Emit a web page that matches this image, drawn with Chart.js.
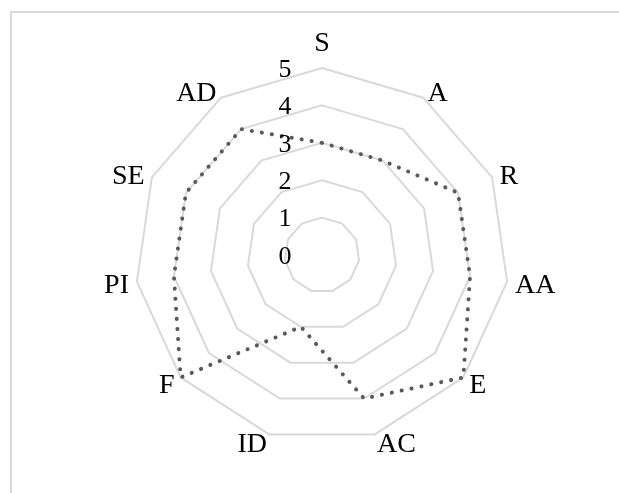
<!DOCTYPE html>
<html lang="en">
<head>
    <meta charset="UTF-8">
    <title>Radar</title>
    <script src="https://cdn.jsdelivr.net/npm/chart.js"></script>
    <style>
        body { margin: 0; background: #fff; font-family: 'Liberation Serif', serif; }
        #wrap { position: relative; width: 619px; height: 493px; overflow: hidden; }
        #frame { position: absolute; left: 10px; top: 11px; width: 700px; height: 600px;
                 border-left: 2px solid #d9d9d9; border-top: 2px solid #d9d9d9; }
        canvas { position: absolute; left: 0; top: 0; }
    </style>
</head>
<body>
<div id="wrap">
    <div id="frame"></div>
    <canvas id="radar" width="619" height="493"></canvas>
</div>
<script>
    const categories = ['S', 'A', 'R', 'AA', 'E', 'AC', 'ID', 'F', 'PI', 'SE', 'AD'];
    const scores = [3, 3, 4, 4, 5, 4, 2, 5, 4, 4, 4];
    const tickLabels = ['0', '1', '2', '3', '4', '5'];

    const labelFont = '28px "Liberation Serif"';
    const tickFont = '26px "Liberation Serif"';

    // excel-like labels: ticks left of the axis, category names hugging the outer ring
    const labelPlugin = {
        id: 'excelLabels',
        afterDatasetsDraw(chart) {
            const r = chart.scales.r;
            const ctx = chart.ctx;
            ctx.save();
            ctx.fillStyle = '#000';

            ctx.font = tickFont;
            ctx.textAlign = 'center';
            ctx.textBaseline = 'middle';
            tickLabels.forEach((t) => {
                const d = r.getDistanceFromCenterForValue(Number(t));
                ctx.fillText(t, r.xCenter - 37, r.yCenter - d + 2);
            });

            ctx.font = labelFont;
            categories.forEach((c, i) => {
                const p = r.getPointPosition(i, r.drawingArea + 8);
                if (p.x > r.xCenter + 1) ctx.textAlign = 'left';
                else if (p.x < r.xCenter - 1) ctx.textAlign = 'right';
                else ctx.textAlign = 'center';
                if (p.y < r.yCenter - r.drawingArea) {
                    ctx.textBaseline = 'bottom';
                    ctx.fillText(c, p.x, p.y - 2);
                } else {
                    ctx.textBaseline = 'middle';
                    ctx.fillText(c, p.x, p.y + 3);
                }
            });
            ctx.restore();
        }
    };

    function draw() {
        new Chart(document.getElementById('radar'), {
            type: 'radar',
            data: {
                labels: categories,
                datasets: [{
                    data: scores,
                    borderColor: '#595959',
                    borderWidth: 4,
                    borderDash: [0.1, 10],
                    borderCapStyle: 'round',
                    fill: false,
                    pointRadius: 0,
                    tension: 0
                }]
            },
            options: {
                responsive: false,
                animation: false,
                layout: { padding: { left: 135, right: 110, top: 68, bottom: 51 } },
                plugins: { legend: { display: false }, tooltip: { enabled: false } },
                scales: {
                    r: {
                        min: 0,
                        max: 5,
                        ticks: { stepSize: 1, display: false },
                        angleLines: { display: false },
                        grid: { color: '#d9d9d9', lineWidth: 2 },
                        pointLabels: { display: false }
                    }
                }
            },
            plugins: [labelPlugin]
        });
    }

    document.fonts.load(labelFont).then(draw, draw);
</script>
</body>
</html>
